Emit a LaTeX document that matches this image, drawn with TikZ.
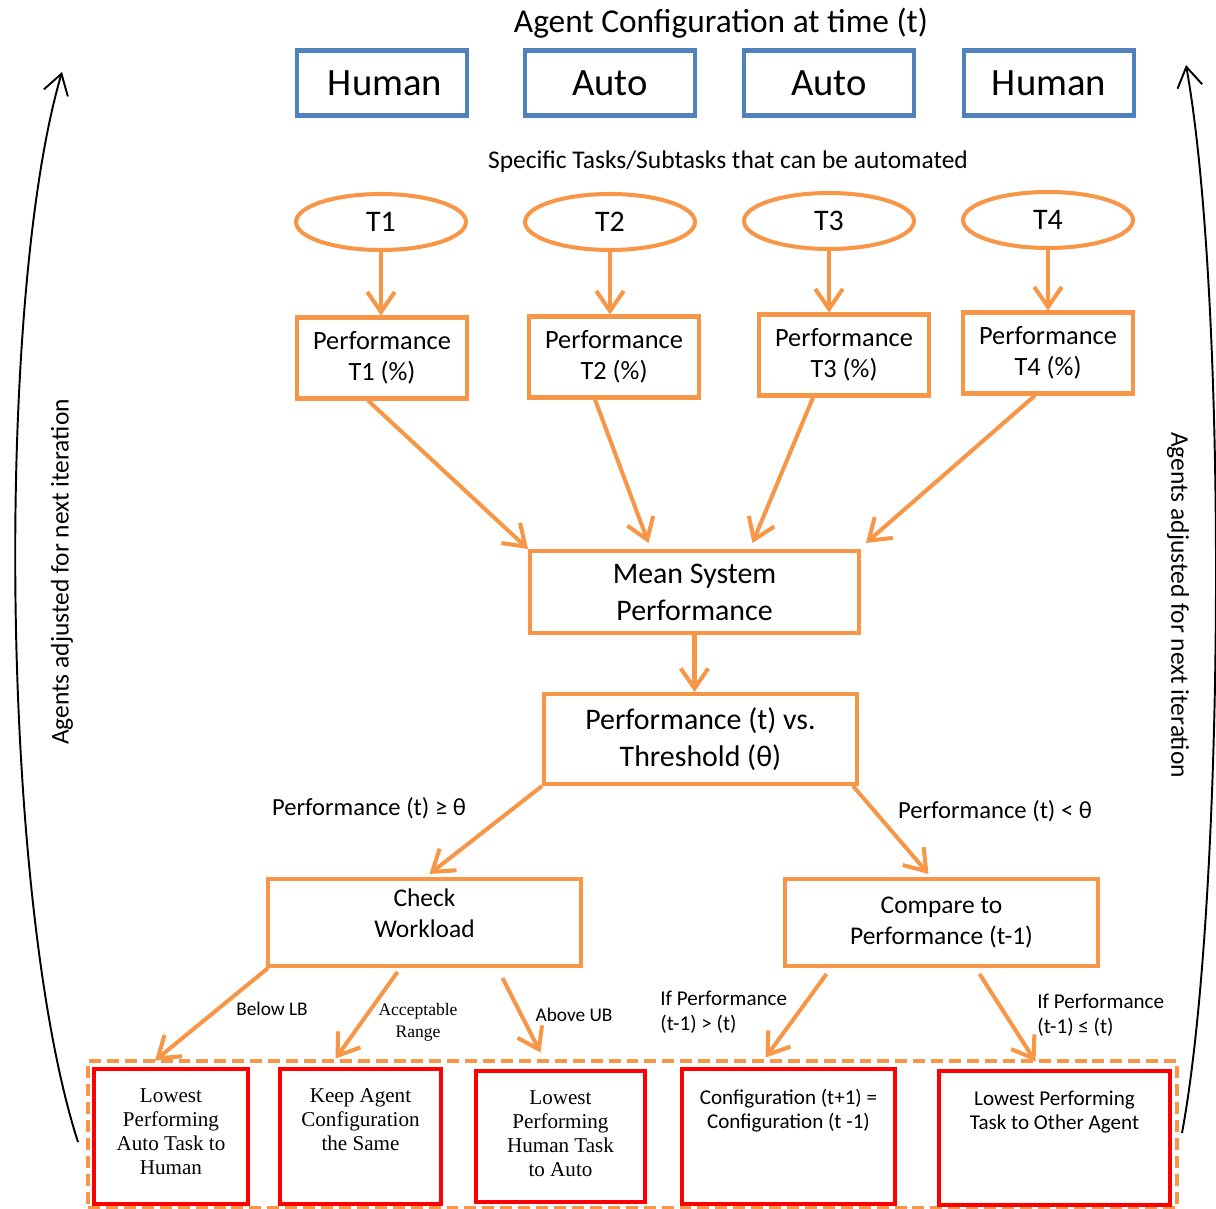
\documentclass[tikz,border=0pt]{standalone}
\usepackage{fontspec}
\setmainfont{Carlito}
\newfontfamily\serifbox{Liberation Serif}
\usetikzlibrary{arrows.meta,shapes.geometric,calc}
\definecolor{boxblue}{RGB}{79,129,189}
\definecolor{flow}{RGB}{247,150,70}
\definecolor{boxred}{RGB}{255,0,0}
\begin{document}
\begin{tikzpicture}[x=0.02cm,y=-0.02cm,
    agentbox/.style={draw=boxblue,line width=2.5pt,minimum width=3.4cm,minimum height=1.3cm,inner sep=0pt,font=\fontsize{22}{26}\selectfont},
    taskell/.style={ellipse,draw=flow,line width=2.3pt,minimum width=3.4cm,minimum height=1.12cm,inner sep=0pt,font=\fontsize{17}{20}\selectfont},
    perfbox/.style={draw=flow,line width=2.3pt,minimum width=3.4cm,minimum height=1.62cm,inner sep=0pt,align=center,font=\fontsize{15}{17.6}\selectfont},
    stagebox/.style={draw=flow,line width=2.3pt,inner sep=0pt,align=center},
    outbox/.style={draw=boxred,line width=2.8pt,minimum height=2.7cm,inner sep=0pt},
    outtext/.style={anchor=north,yshift=-0.44cm,align=center,inner sep=0pt},
    flowarrow/.style={draw=flow,line width=2.3pt,-{Straight Barb[length=4mm,width=5.5mm]}},
    looparrow/.style={draw=black,line width=1.1pt,-{Straight Barb[length=4mm,width=5mm]}},
    cond/.style={inner sep=0pt,font=\fontsize{14}{17}\selectfont},
    edgelab/.style={inner sep=0pt,align=left,font=\fontsize{12}{14.2}\selectfont}]
    \useasboundingbox (0,0) rectangle (1216,1209);
    % agent configuration
    \node (title) at (721,23) {\fontsize{19}{22}\selectfont Agent Configuration at time (t)};
    \node[agentbox] (a1) at (382,83) {\hspace{0.12cm}Human};
    \node[agentbox] (a2) at (610,83) {Auto};
    \node[agentbox] (a3) at (829,83) {Auto};
    \node[agentbox] (a4) at (1049,83) {Human};
    \node (subtitle) at (728,162) {\fontsize{14.5}{17}\selectfont Specific Tasks/Subtasks that can be automated};
    % tasks and their performance
    \node[taskell] (t1) at (381,222) {T1};
    \node[taskell] (t2) at (610,222) {T2};
    \node[taskell] (t3) at (829,221) {T3};
    \node[taskell] (t4) at (1048,220) {T4};
    \node[perfbox] (p1) at (382,358) {Performance\\T1 (\%)};
    \node[perfbox] (p2) at (614,357) {Performance\\T2 (\%)};
    \node[perfbox] (p3) at (844,355) {Performance\\T3 (\%)};
    \node[perfbox] (p4) at (1048,353) {Performance\\T4 (\%)};
    \foreach \i in {1,...,4}
        \draw[flowarrow] (t\i.south) -- (t\i.south |- p\i.north);
    % system level
    \node[stagebox,minimum width=6.58cm,minimum height=1.64cm,font=\fontsize{17}{21}\selectfont] (mean) at (694.5,592) {Mean System\\Performance};
    \node[stagebox,minimum width=6.26cm,minimum height=1.8cm,font=\fontsize{17}{21}\selectfont] (thresh) at (700.5,739) {Performance (t) vs.\\Threshold (θ)};
    \draw[flowarrow] ($(p1.south)+(-14,0)$) -- (mean.north west);
    \draw[flowarrow] ($(p2.south)+(-19,0)$) -- ($(mean.north)+(-46,-6)$);
    \draw[flowarrow] ($(p3.south)+(-31,0)$) -- ($(mean.north)+(58,-6)$);
    \draw[flowarrow] ($(p4.south)+(-13,0)$) -- ($(mean.north east)+(5,-6)$);
    \draw[flowarrow] (mean.south) -- (mean.south |- thresh.north);
    \node[stagebox,minimum width=6.26cm,minimum height=1.74cm,font=\fontsize{14.5}{17.6}\selectfont] (check) at (424.5,922.5) {Check\\Workload\\[-0.25cm]};
    \node[stagebox,minimum width=6.26cm,minimum height=1.74cm,font=\fontsize{14.5}{17.6}\selectfont] (compare) at (941.5,922.5) {Compare to\\Performance (t-1)};
    \draw[flowarrow] (thresh.south west) -- ($(check.north)+(5,-3)$);
    \draw[flowarrow] ($(thresh.south east)+(-6,0)$) -- ($(compare.north)+(-13,-3)$);
    \node[cond] (ge) at (369,808) {Performance (t) ≥ θ};
    \node[cond] (lt) at (995,811) {Performance (t) < θ};
    % outcomes
    \node[draw=flow,line width=2pt,dash pattern=on 6.8pt off 3.4pt,minimum width=21.78cm,minimum height=2.94cm] (outcomes) at (632.5,1134.5) {};
    \node[outbox,minimum width=3.08cm,label={[outtext,font=\serifbox\fontsize{12}{13.7}\selectfont]north:{Lowest\\Performing\\Auto Task to\\Human}}] (b1) at (171,1136.5) {};
    \node[outbox,minimum width=3.22cm,label={[outtext,font=\serifbox\fontsize{12}{13.7}\selectfont]north:{Keep Agent\\Configuration\\the Same}}] (b2) at (360.5,1136.5) {};
    \node[outbox,minimum width=3.38cm,minimum height=2.62cm,label={[outtext,font=\serifbox\fontsize{12}{13.7}\selectfont]north:{Lowest\\Performing\\Human Task\\to Auto}}] (b3) at (560.5,1136.5) {};
    \node[outbox,minimum width=4.26cm,label={[outtext,font=\fontsize{12}{13.7}\selectfont]north:{Configuration (t+1) =\\Configuration (t -1)}}] (b4) at (788.5,1136.5) {};
    \node[outbox,minimum width=4.62cm,minimum height=2.68cm,label={[outtext,font=\fontsize{12}{13.7}\selectfont]north:{Lowest Performing\\Task to Other Agent}}] (b5) at (1054.5,1138) {};
    \draw[flowarrow] ($(check.south west)+(2,0)$) -- ($(b1.north)+(-16,-6)$);
    \draw[flowarrow] ($(check.south)+(-27,4)$) -- ($(b2.north)+(-25,-8)$);
    \draw[flowarrow] ($(check.south)+(78,10)$) -- ($(b3.north)+(-20,-16)$);
    \draw[flowarrow] ($(compare.south)+(-115,6)$) -- ($(b4.north)+(-23,-9)$);
    \draw[flowarrow] ($(compare.south)+(38,6)$) -- ($(b5.north)+(-19,-7)$);
    \node[edgelab,font=\fontsize{11}{13}\selectfont] (lb) at (272,1009) {Below LB};
    \node[edgelab,align=center,font=\serifbox\fontsize{10}{12.5}\selectfont] (ok) at (418,1022) {Acceptable\\Range};
    \node[edgelab,font=\fontsize{11}{13}\selectfont] (ub) at (574,1015) {Above UB};
    \node[edgelab,anchor=west] (worse) at (660,1012) {If Performance\\(t-1) > (t)};
    \node[edgelab,anchor=west] (better) at (1037,1015) {If Performance\\(t-1) ≤ (t)};
    % iteration loops
    \coordinate (loopLs) at (78,1142);
    \coordinate (loopLe) at (62,72);
    \coordinate (loopRs) at (1182,1133);
    \coordinate (loopRe) at (1186,65);
    \draw[looparrow] (loopLs) .. controls (0,900) and (-5,300) .. (loopLe);
    \draw[looparrow] (loopRs) .. controls (1225,900) and (1228,300) .. (loopRe);
    \node[rotate=90,inner sep=0pt,font=\fontsize{14.5}{17}\selectfont] (iterL) at (62,572) {Agents adjusted for next iteration};
    \node[rotate=-90,inner sep=0pt,font=\fontsize{14.5}{17}\selectfont] (iterR) at (1178,605) {Agents adjusted for next iteration};
\end{tikzpicture}
\end{document}
